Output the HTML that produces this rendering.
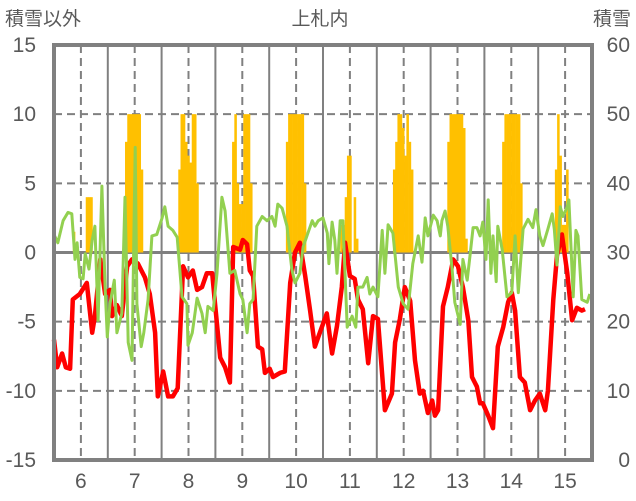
<!DOCTYPE html>
<html><head><meta charset="utf-8"><style>
html,body{margin:0;padding:0;background:#fff;}
svg{display:block;font-family:"Liberation Sans","Noto Sans CJK JP",sans-serif;}
</style></head><body>
<svg id="chart" width="636" height="501" viewBox="0 0 636 501" xmlns="http://www.w3.org/2000/svg">
<text x="5" y="25" font-size="19" fill="#595959">積雪以外</text>
<text x="320" y="25" font-size="19" fill="#595959" text-anchor="middle">上札内</text>
<text x="631" y="25" font-size="19" fill="#595959" text-anchor="end">積雪</text>
<g id="grid"></g>
<g id="bars"></g>
<g id="lines"></g>
<g id="axes"></g>
</svg>
<script>
const leftTicks=[15,10,5,0,-5,-10,-15];
const rightTicks=[60,50,40,30,20,10,0];
const dayLabels=[6,7,8,9,10,11,12,13,14,15];
const redTimes=[5.5,5.56,5.65,5.72,5.80,5.85,5.98,6.11,6.21,6.26,6.36,6.45,6.54,6.58,6.67,6.76,6.86,6.95,7.06,7.19,7.28,7.38,7.43,7.53,7.62,7.71,7.80,7.90,7.99,8.08,8.16,8.25,8.34,8.44,8.49,8.59,8.68,8.77,8.83,8.96,9.01,9.09,9.14,9.20,9.29,9.37,9.42,9.51,9.57,9.70,9.79,9.89,9.98,10.07,10.17,10.26,10.35,10.44,10.57,10.67,10.76,10.85,10.91,11.00,11.09,11.15,11.24,11.34,11.43,11.52,11.65,11.78,11.84,11.93,12.02,12.12,12.21,12.30,12.36,12.45,12.53,12.58,12.64,12.73,12.82,12.92,13.01,13.10,13.20,13.27,13.36,13.42,13.47,13.57,13.66,13.75,13.85,13.94,14.01,14.07,14.16,14.25,14.35,14.44,14.53,14.63,14.68,14.78,14.85,14.94,15.04,15.13,15.22,15.31,15.37,15.46];
const redValues=[-6.3,-8.3,-7.3,-8.3,-8.4,-3.4,-3,-2.2,-5.8,-4.6,-0.5,-3,-2.7,-4.6,-3.8,-4.6,-1,-0.5,-0.8,-1.8,-3,-5.8,-10.4,-8.6,-10.4,-10.4,-9.8,-1,-1.8,-1.3,-2.7,-2.5,-1.5,-1.5,-3.6,-7.6,-8.3,-9.4,0.4,0.2,0.9,0.6,-1.3,-1.7,-6.8,-7,-8.7,-8.4,-9,-8.7,-8.6,-2.2,0,0.7,-1.7,-4.2,-6.8,-5.8,-4.4,-7.3,-5.3,-2.5,0.7,-1.7,-1.9,-3.4,-4.1,-8,-4.6,-4.8,-11.4,-10.2,-6.5,-4.8,-2.5,-3.5,-7.8,-10.2,-10,-11.6,-10.7,-11.8,-11.4,-3.9,-2.5,-0.5,-1,-2.5,-4.9,-9,-9.7,-10.9,-10.9,-11.8,-12.7,-6.8,-5.4,-3.6,-2.9,-4.2,-9,-9.4,-11.4,-10.7,-10.2,-11.4,-10,-3.4,-0.2,1.3,-1.5,-4.9,-4,-4.2,-4.1];
const greenTimes=[5.50,5.57,5.67,5.76,5.83,5.89,5.93,5.98,6.04,6.08,6.15,6.21,6.26,6.32,6.39,6.45,6.49,6.54,6.62,6.67,6.76,6.82,6.88,6.95,7.01,7.04,7.12,7.17,7.25,7.32,7.41,7.51,7.56,7.62,7.71,7.79,7.88,7.97,7.99,8.07,8.16,8.25,8.31,8.36,8.46,8.53,8.62,8.68,8.77,8.86,8.96,9.01,9.09,9.14,9.20,9.27,9.37,9.46,9.55,9.61,9.66,9.74,9.83,9.92,9.98,10.07,10.13,10.22,10.30,10.35,10.41,10.50,10.58,10.61,10.67,10.72,10.76,10.82,10.87,10.95,11.04,11.11,11.15,11.24,11.32,11.37,11.43,11.52,11.60,11.65,11.71,11.80,11.90,11.99,12.08,12.17,12.27,12.34,12.40,12.45,12.55,12.62,12.68,12.71,12.77,12.82,12.90,12.95,13.05,13.10,13.18,13.23,13.29,13.36,13.42,13.47,13.53,13.57,13.62,13.66,13.72,13.75,13.83,13.92,14.01,14.07,14.13,14.22,14.31,14.40,14.46,14.53,14.59,14.68,14.76,14.80,14.85,14.91,14.96,15.04,15.07,15.15,15.20,15.24,15.31,15.41,15.46];
const greenValues=[1.3,0.7,2.3,2.9,2.8,-0.5,0.7,-1.8,-1.9,-0.1,-1.2,0.9,1.9,-4.9,4.8,-2.5,-6.1,-3.7,-2,-5.8,-4.4,4,-6.5,-7.8,7.6,-3.7,-6.8,-5.8,-3.4,1.2,1.3,2.5,3.3,1.9,1.6,1.1,-3.2,-3.7,-6.7,-5.8,-3.3,-4.4,-5.8,-3.9,-4.2,-1.5,4,3,-1.5,-1.3,-3,-3.4,-5.8,-3.7,-3.4,1.9,2.6,2.3,2.6,1.9,3.5,3.2,1.9,-1.2,-2.2,-1.5,0.4,1.4,2.3,1.9,2.3,2.5,1.4,-0.8,2.2,0.9,-1.5,2.3,2.3,-5.4,-4.6,-5.4,-2.5,-2.5,-1.8,-3,-2.5,-3.2,1.6,-1.5,2.0,1.4,-2.5,-3.7,-4.1,-0.8,1.2,-0.7,2.5,1.2,2.7,2.3,1.2,2.3,3.0,1.9,-1.2,-3.6,-5.2,-0.5,-2,-0.3,1.8,1.8,1.2,2.2,-0.5,3.8,-1.5,1.2,-2.1,1.9,0.2,-3.2,-2.9,1.2,-2.9,1.7,2.4,1.8,3.1,1.2,0.5,1.7,2.8,1.7,-0.9,3.3,2.6,3.3,3.8,-3.2,1.6,1.2,-3.4,-3.6,-3.0];
const snowGroupStarts=[5.85,6.09,6.82,7.81,8.81,9.81,10.82,11.80,12.81,13.83,14.81];
const snowGroupValues=[[33],[38,38,38],[46,50,50,50,50,50,50,42],[42,50,50,46,44,43,50,50,40],[46,50,40,37,37,50,50,50,40],[46,50,50,50,50,50,50,50,40],[34,34,38,44,44,30,38,32],[42,46,50,50,48,44,50,46,42],[46,50,50,50,50,50,50,48,32],[46,50,50,50,50,50,50,50,40],[42,50,44,34,34,42]];
const purpleValue=-15;

const NS='http://www.w3.org/2000/svg';
const X0=54,X1=592,Y0=45,Y1=460,T0=5.5,T1=15.5;
const xs=t=>X0+(t-T0)/(T1-T0)*(X1-X0);
const yl=v=>Y1-(v+15)/30*(Y1-Y0);
const yr=v=>Y1-v/60*(Y1-Y0);
function mk(tag,attrs,parent){const e=document.createElementNS(NS,tag);for(const k in attrs)e.setAttribute(k,attrs[k]);parent.appendChild(e);return e;}
const grid=document.getElementById('grid'),bars=document.getElementById('bars'),lines=document.getElementById('lines'),axes=document.getElementById('axes');
for(let d=6;d<=15;d++){
  const b=mk('line',{x1:xs(d-0.5),x2:xs(d-0.5),y1:Y0,y2:Y1,stroke:'#808080','stroke-width':2},grid);
  
  
  const c=mk('line',{x1:xs(d),x2:xs(d),y1:Y0,y2:Y1,stroke:'#808080','stroke-width':2,'stroke-dasharray':'8,5'},grid);
  
  
}
leftTicks.forEach(v=>{
  if(v===15||v===-15)return;
  const g=mk('line',{x1:X0,x2:X1,y1:yl(v),y2:yl(v),stroke:'#808080','stroke-width':v===0?3:2,'stroke-dasharray':v===0?'none':'8,5'},grid);
  
  
});
const bw=(X1-X0)/(T1-T0)/24;
snowGroupStarts.forEach((s,gi)=>{
  snowGroupValues[gi].forEach((v,i)=>{
    if(v<=30)return;
    const t=s+i/24;
    const r=mk('rect',{x:xs(t),y:yr(v),width:bw+0.3,height:yr(30)-yr(v),fill:'#FFC000'},bars);
    
    
  });
});
function poly(times,vals,color,w,name){
  const pts=times.map((t,i)=>xs(t).toFixed(1)+','+yl(vals[i]).toFixed(1)).join(' ');
  const p=mk('polyline',{points:pts,fill:'none',stroke:color,'stroke-width':w,'stroke-linejoin':'round'},lines);
  
  
}
poly(redTimes,redValues,'#FF0000',4.5,'red-series-line');
poly(greenTimes,greenValues,'#92D050',3,'green-series-line');
const pl=mk('line',{x1:X0,x2:X1,y1:yl(purpleValue),y2:yl(purpleValue),stroke:'#7030A0','stroke-width':3.5},lines);


const bd=mk('rect',{x:X0,y:Y0,width:X1-X0,height:Y1-Y0,fill:'none',stroke:'#808080','stroke-width':4},axes);


leftTicks.forEach(v=>{
  const t=mk('text',{x:36,y:yl(v)+7,'font-size':21,fill:'#595959','text-anchor':'end'},axes);
  t.textContent=v;
  
  
});
rightTicks.forEach(v=>{
  const t=mk('text',{x:630,y:yr(v)+7,'font-size':21,fill:'#595959','text-anchor':'end'},axes);
  t.textContent=v;
  
  
});
dayLabels.forEach(d=>{
  const t=mk('text',{x:xs(d),y:488,'font-size':21,fill:'#595959','text-anchor':'middle'},axes);
  t.textContent=d;
  
  
});
</script>
</body></html>
